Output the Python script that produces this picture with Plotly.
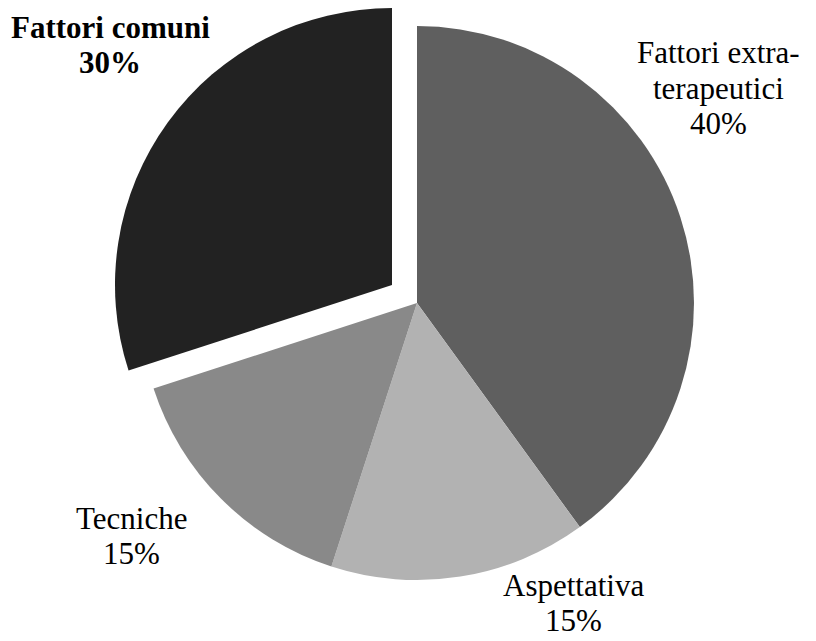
import plotly.graph_objects as go

# Data
labels = ["Fattori extra-terapeutici", "Aspettativa", "Tecniche", "Fattori comuni"]
label_lines = [["Fattori extra-", "terapeutici"], ["Aspettativa"], ["Tecniche"], ["Fattori comuni"]]
values = [40, 15, 15, 30]
colors = ["#5f5f5f", "#b2b2b2", "#898989", "#222222"]
exploded = "Fattori comuni"

W, H = 816, 641
OFF = 8  # page body offset
R = 277
center_main = (417 - OFF, 303 - OFF)
center_pulled = (392 - OFF, 285 - OFF)

# label position: x centre and y centre of each text line (pixels, reference coords)
label_pos = {
    "Fattori extra-terapeutici": (718, [52, 88, 123]),
    "Aspettativa": (573, [585, 620]),
    "Tecniche": (132, [518, 553]),
    "Fattori comuni": (110, [27, 62]),
}
bold = {"Fattori comuni"}
FONT = dict(family="Liberation Serif", size=31, color="#000000")


def domain(c):
    cx, cy = c
    return dict(x=[(cx - R) / W, (cx + R) / W], y=[1 - (cy + R) / H, 1 - (cy - R) / H])


transparent = "rgba(0,0,0,0)"
main_colors = [transparent if l == exploded else col for l, col in zip(labels, colors)]
pulled_colors = [col if l == exploded else transparent for l, col in zip(labels, colors)]

fig = go.Figure()
for cols, c in [(main_colors, center_main), (pulled_colors, center_pulled)]:
    fig.add_trace(go.Pie(
        labels=labels, values=values, sort=False, direction="clockwise", rotation=0,
        marker=dict(colors=cols, line=dict(width=0)),
        textinfo="none", hoverinfo="label+percent", showlegend=False,
        domain=domain(c),
    ))

annotations = []
for lab, lines, v in zip(labels, label_lines, values):
    x, ys = label_pos[lab]
    texts = lines + [f"{v}%"]
    for t, y in zip(texts, ys):
        if lab in bold:
            t = f"<b>{t}</b>"
        annotations.append(dict(
            x=(x - OFF) / W, y=1 - (y - OFF) / H, xref="paper", yref="paper", text=t,
            showarrow=False, xanchor="center", yanchor="middle", align="center", font=FONT,
        ))

fig.update_layout(
    width=W, height=H, margin=dict(l=0, r=0, t=0, b=0),
    paper_bgcolor="white", plot_bgcolor="white",
    annotations=annotations,
)
fig.write_html("out.html")
